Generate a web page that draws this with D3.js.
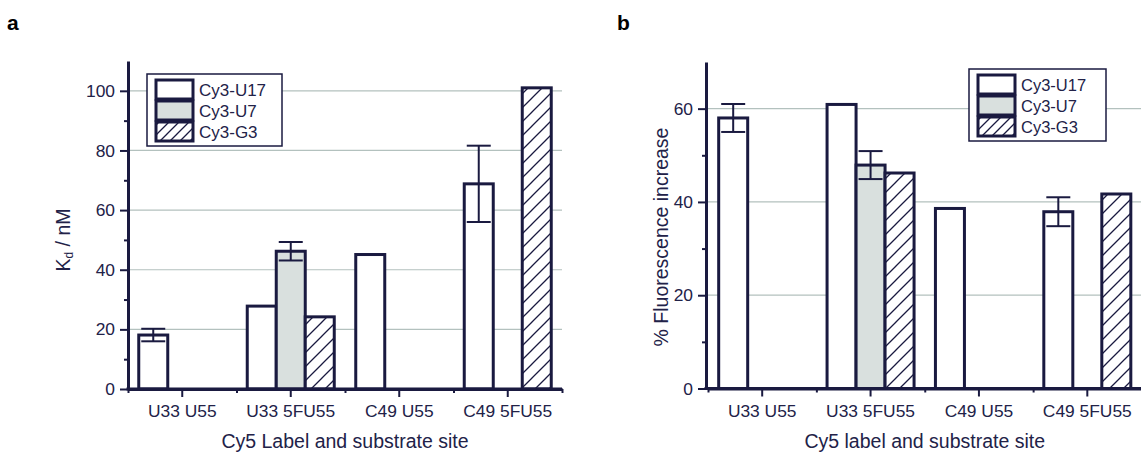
<!DOCTYPE html>
<html>
<head>
<meta charset="utf-8">
<script src="https://cdn.jsdelivr.net/npm/d3@7"></script>
<style>
  body { margin: 0; background: #fff; }
  svg { display: block; font-family: "Liberation Sans", Arial, sans-serif; }
</style>
</head>
<body>
<div id="chart"></div>
<script>
// categories and series
const categories = ['U33 U55', 'U33 5FU55', 'C49 U55', 'C49 5FU55'];
const series = ['Cy3-U17', 'Cy3-U7', 'Cy3-G3'];

// panel a: Kd / nM
const kdU17 = [18.1, 27.8, 45.1, 68.8];
const kdU17Err = [2.1, null, null, 12.8];
const kdU7 = [null, 46.2, null, null];
const kdU7Err = [null, 3.1, null, null];
const kdG3 = [null, 24.2, null, 101];
const kdG3Err = [null, null, null, null];

// panel b: % fluorescence increase
const fluU17 = [58.0, 60.9, 38.6, 37.9];
const fluU17Err = [3.0, null, null, 3.1];
const fluU7 = [null, 47.9, null, null];
const fluU7Err = [null, 3.0, null, null];
const fluG3 = [null, 46.2, null, 41.7];
const fluG3Err = [null, null, null, null];

const kdTicks = [0, 20, 40, 60, 80, 100];
const fluTicks = [0, 20, 40, 60];

const ink = '#1a1a40';
const textCol = '#222248';
const grayFill = '#d9e0de';
const gridCol = '#b3c1be';

const W = 1141, H = 452;
const svg = d3.select('#chart').append('svg').attr('width', W).attr('height', H);

const defs = svg.append('defs');
function hatch(id, size) {
  const p = defs.append('pattern')
    .attr('id', id)
    .attr('patternUnits', 'userSpaceOnUse')
    .attr('width', size).attr('height', size);
  p.append('rect').attr('width', size).attr('height', size).attr('fill', '#fff');
  p.append('path')
    .attr('d', `M0,${size} L${size},0 M${-size / 2},${size / 2} L${size / 2},${-size / 2} M${size / 2},${size * 1.5} L${size * 1.5},${size / 2}`)
    .attr('stroke', ink).attr('stroke-width', 1.3);
}
hatch('hatchBar', 14);
hatch('hatchLeg', 10);

const fills = ['#fff', grayFill, 'url(#hatchBar)'];
const legFills = ['#fff', grayFill, 'url(#hatchLeg)'];

function panel(opt) {
  const g = svg.append('g');
  const y = d3.scaleLinear().domain(opt.yDomain).range([opt.y0, opt.yTop]);
  const x0 = d3.scaleBand().domain(categories).range([opt.xStart, opt.xEnd]);
  const barW = 29;
  const x1 = d3.scaleBand().domain(series).range([0, barW * 3]);
  const off = (x0.bandwidth() - barW * 3) / 2;

  // grid lines
  g.selectAll('.grid').data(opt.ticks.filter(d => d > 0)).enter().append('line')
    .attr('x1', opt.yAxisX).attr('x2', opt.xEnd)
    .attr('y1', d => y(d)).attr('y2', d => y(d))
    .attr('stroke', gridCol).attr('stroke-width', 1.2);

  // bars
  const rows = [];
  opt.values.forEach((vals, si) => {
    vals.forEach((v, ci) => {
      if (v != null) rows.push({ c: categories[ci], s: series[si], si, v, e: opt.errs[si][ci] });
    });
  });
  g.selectAll('.bar').data(rows).enter().append('rect')
    .attr('x', d => x0(d.c) + off + x1(d.s))
    .attr('y', d => y(d.v))
    .attr('width', barW)
    .attr('height', d => y(0) - y(d.v))
    .attr('fill', d => fills[d.si])
    .attr('stroke', ink).attr('stroke-width', 3);

  // error bars
  const eb = g.selectAll('.err').data(rows.filter(d => d.e != null)).enter().append('g')
    .attr('stroke', ink).attr('stroke-width', 2);
  const cx = d => x0(d.c) + off + x1(d.s) + barW / 2;
  eb.append('line').attr('x1', cx).attr('x2', cx)
    .attr('y1', d => y(d.v - d.e)).attr('y2', d => y(d.v + d.e));
  eb.append('line').attr('x1', d => cx(d) - 12).attr('x2', d => cx(d) + 12)
    .attr('y1', d => y(d.v + d.e)).attr('y2', d => y(d.v + d.e));
  eb.append('line').attr('x1', d => cx(d) - 12).attr('x2', d => cx(d) + 12)
    .attr('y1', d => y(d.v - d.e)).attr('y2', d => y(d.v - d.e));

  // y axis
  g.append('g').attr('transform', `translate(${opt.yAxisX},0)`)
    .call(d3.axisLeft(y).tickValues(opt.ticks).tickSize(8).tickSizeOuter(0).tickPadding(5));
  const minor = d3.range(10, opt.yDomain[1], 20);
  g.append('g').attr('transform', `translate(${opt.yAxisX},0)`)
    .call(d3.axisLeft(y).tickValues(minor).tickSize(4).tickFormat(''))
    .call(a => a.select('.domain').remove());

  // x axis
  g.append('g').attr('transform', `translate(0,${opt.y0})`)
    .call(d3.axisBottom(x0).tickSize(8).tickSizeOuter(0).tickPadding(8));
  g.append('g').attr('transform', `translate(0,${opt.y0})`)
    .call(d3.axisBottom(d3.scaleLinear().domain([0, 4]).range([opt.xStart, opt.xEnd]))
      .tickValues([0, 1, 2, 3, 4]).tickSize(4).tickFormat(''))
    .call(a => a.select('.domain').remove());
  g.append('line').attr('x1', opt.yAxisX - 1.5).attr('x2', opt.xEnd)
    .attr('y1', opt.y0).attr('y2', opt.y0).attr('stroke', ink).attr('stroke-width', 3);

  g.selectAll('.domain').attr('stroke', ink).attr('stroke-width', 3);
  g.selectAll('.tick line').attr('stroke', ink).attr('stroke-width', 2);
  g.selectAll('.tick text').attr('fill', textCol).style('font-size', '17.4px')
    .style('font-family', '"Liberation Sans", Arial, sans-serif');

  // legend
  const lg = g.append('g').attr('transform', `translate(${opt.leg.x},${opt.leg.y})`);
  lg.append('rect').attr('width', opt.leg.w).attr('height', opt.leg.h)
    .attr('fill', '#fff').attr('stroke', ink).attr('stroke-width', 1.5);
  series.forEach((s, i) => {
    lg.append('rect').attr('x', 9).attr('y', 6 + i * 21).attr('width', 37).attr('height', 19)
      .attr('fill', legFills[i]).attr('stroke', ink).attr('stroke-width', 3);
    lg.append('text').attr('x', 52).attr('y', 22 + i * 21).text(s)
      .attr('fill', textCol).style('font-size', opt.leg.fs + 'px');
  });

  // labels
  g.append('text').attr('x', (opt.xStart + opt.xEnd) / 2).attr('y', 448)
    .attr('text-anchor', 'middle').attr('fill', textCol).style('font-size', '19.5px')
    .text(opt.xLabel);
  const yl = g.append('text')
    .attr('transform', `translate(${opt.yLabelX},${opt.yLabelY}) rotate(-90)`)
    .attr('text-anchor', 'middle').attr('fill', textCol).style('font-size', '19.5px');
  opt.yLabel(yl);

  g.append('text').attr('x', opt.tag.x).attr('y', 30).text(opt.tag.t)
    .attr('fill', '#000').style('font-size', '21px').style('font-weight', 'bold');
}

panel({
  values: [kdU17, kdU7, kdG3], errs: [kdU17Err, kdU7Err, kdG3Err],
  yDomain: [0, 110], y0: 389, yTop: 61, ticks: kdTicks,
  xStart: 128, xEnd: 562, yAxisX: 128,
  leg: { x: 147, y: 74, w: 135, h: 72, fs: 17 },
  xLabel: 'Cy5 Label and substrate site',
  yLabelX: 70, yLabelY: 240,
  yLabel: t => {
    t.append('tspan').text('K');
    t.append('tspan').text('d').attr('baseline-shift', '-25%').style('font-size', '12px');
    t.append('tspan').text(' / nM');
  },
  tag: { x: 7, t: 'a' }
});

panel({
  values: [fluU17, fluU7, fluG3], errs: [fluU17Err, fluU7Err, fluG3Err],
  yDomain: [0, 70], y0: 388.5, yTop: 62, ticks: fluTicks,
  xStart: 708, xEnd: 1141.5, yAxisX: 706,
  leg: { x: 969, y: 69, w: 137, h: 72, fs: 16.5 },
  xLabel: 'Cy5 label and substrate site',
  yLabelX: 668, yLabelY: 237,
  yLabel: t => t.text('% Fluorescence increase'),
  tag: { x: 617, t: 'b' }
});
</script>
</body>
</html>
